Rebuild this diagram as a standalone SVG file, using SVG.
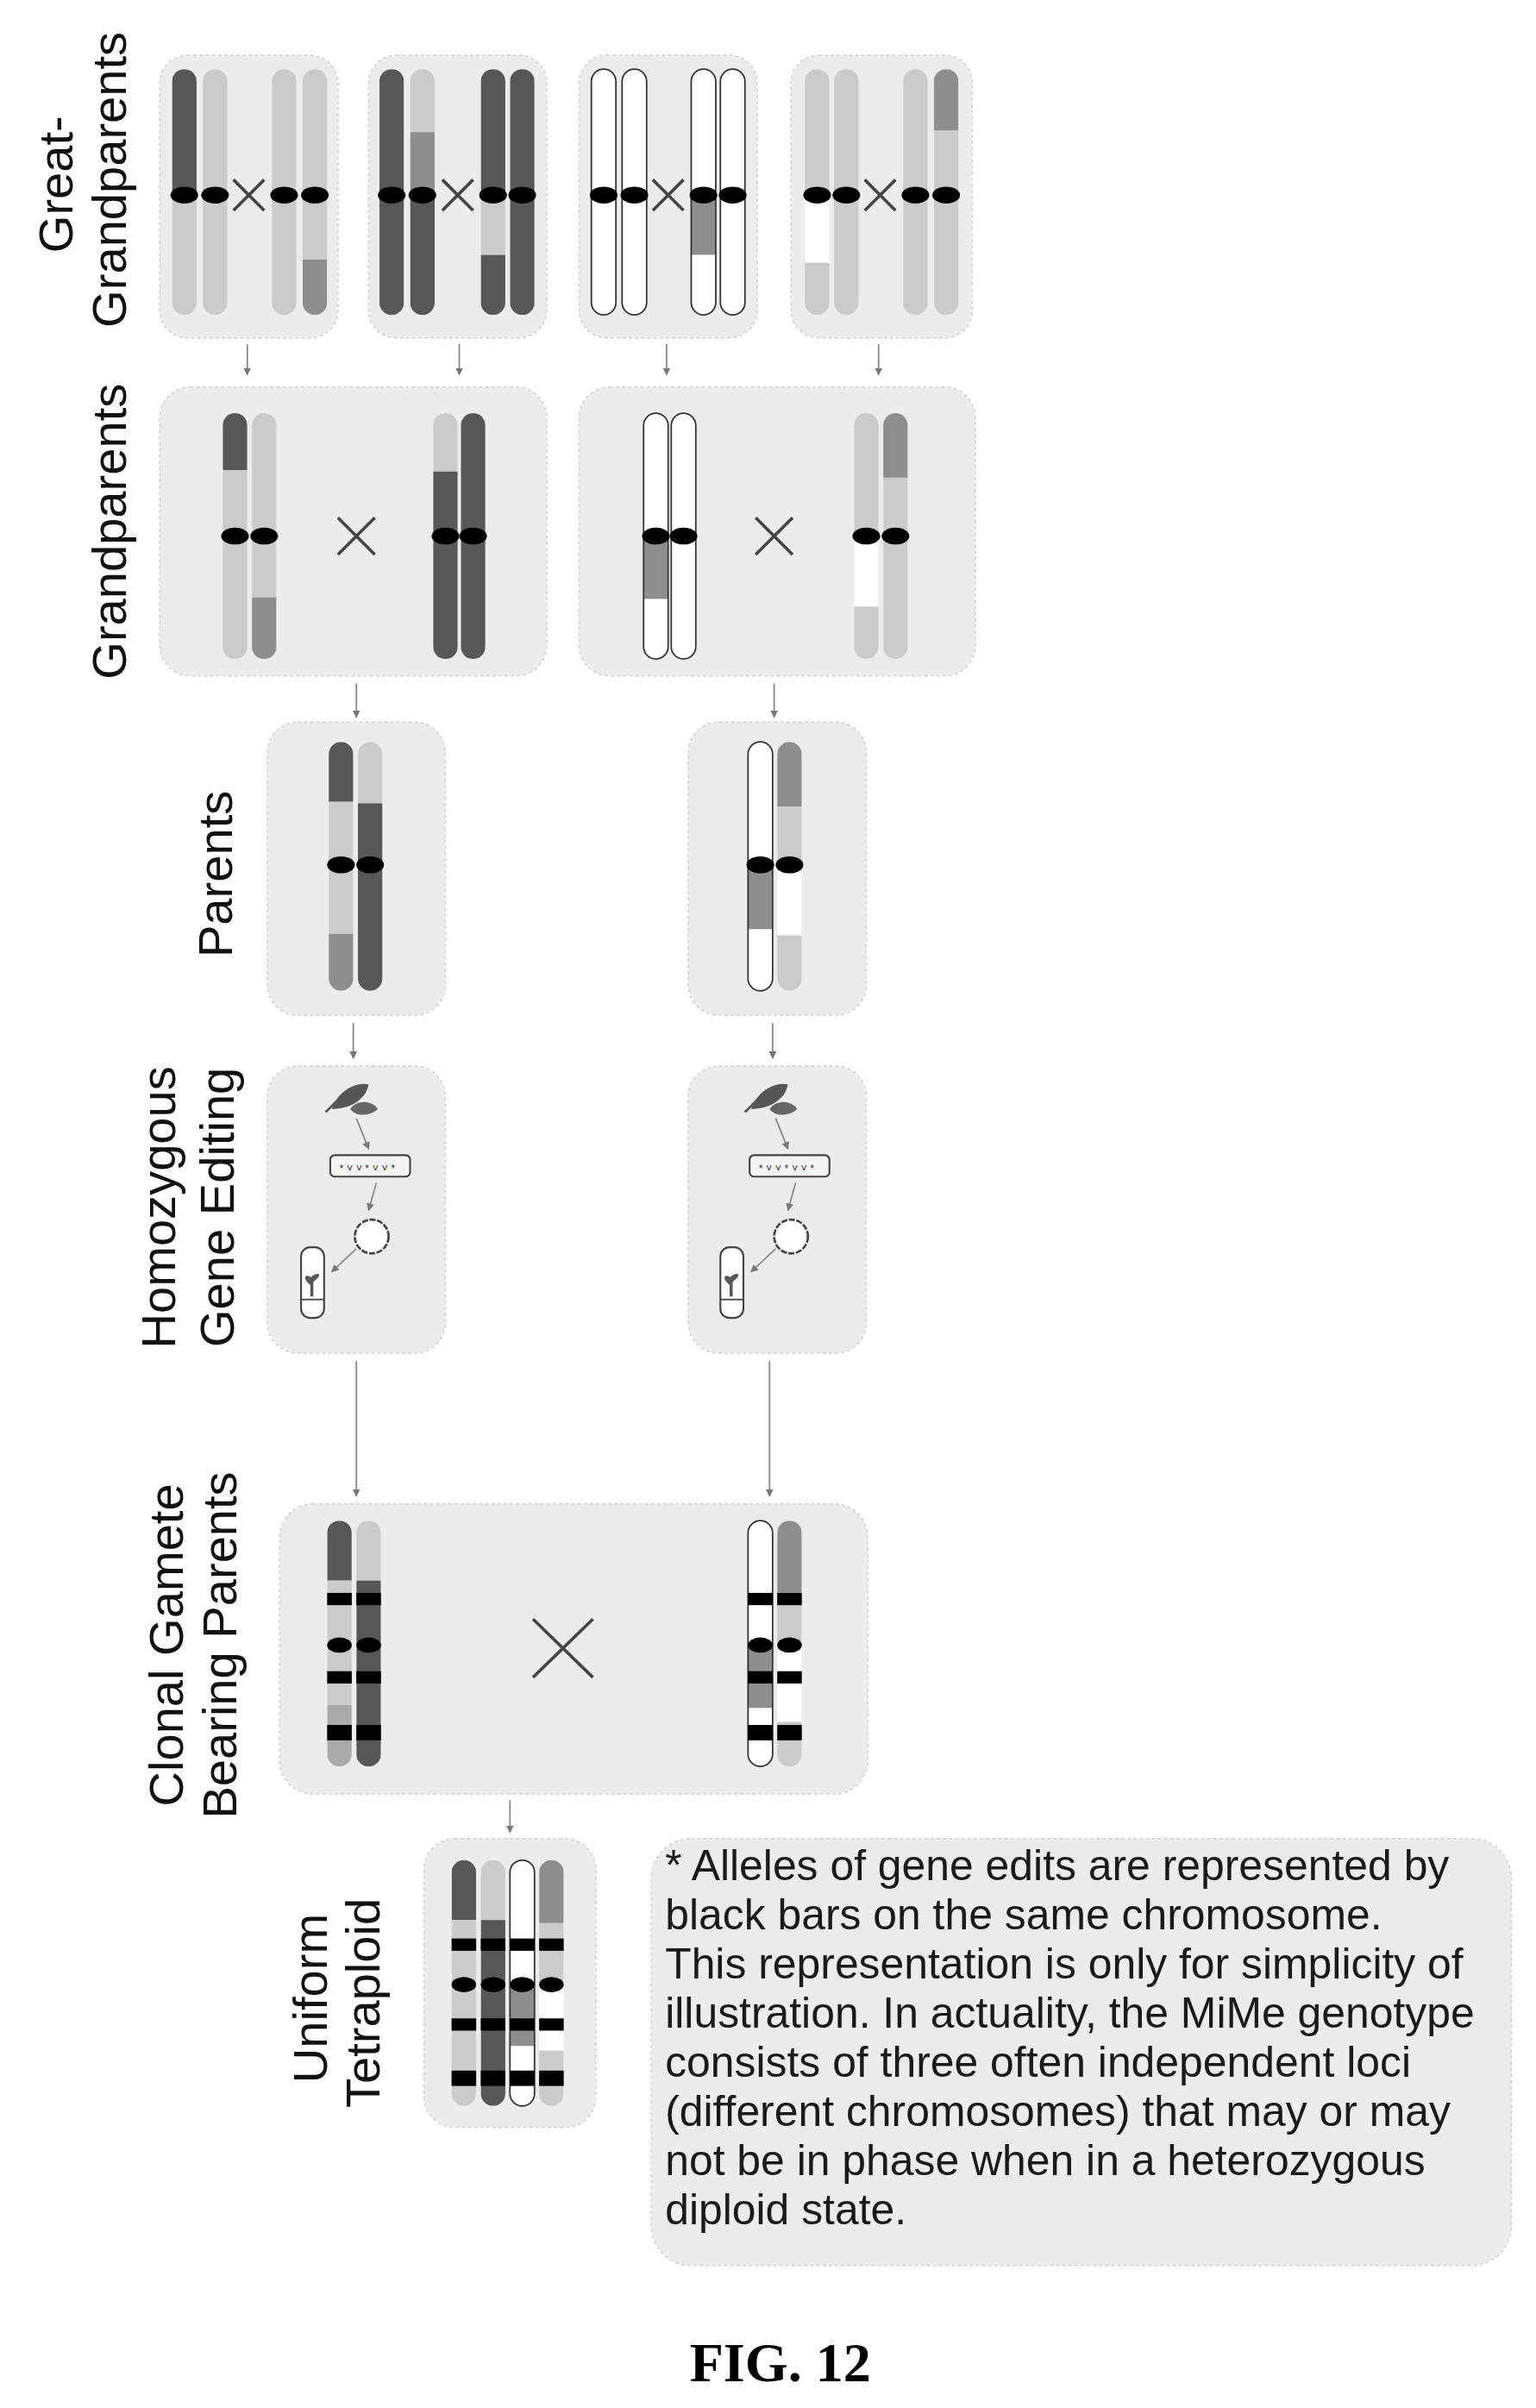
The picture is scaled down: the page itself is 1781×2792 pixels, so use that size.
<svg xmlns="http://www.w3.org/2000/svg" width="1781" height="2792" viewBox="0 0 1781 2792">
<style>
.bx{fill:#ececec;stroke:#d6d6d6;stroke-width:1;stroke-dasharray:2 2}
.D{fill:#575757}.M{fill:#8e8e8e}.L{fill:#cbcbcb}.W{fill:#fff}
.ol{fill:none;stroke:#333;stroke-width:1}
.cen{fill:#000}
.bar{fill:#000}
.x{stroke:#444;stroke-width:2;fill:none}
.lab{font-family:"Liberation Sans",Arial,sans-serif;font-size:31.5px;fill:#111;text-anchor:middle}
.note{font-family:"Liberation Sans",Arial,sans-serif;font-size:28px;fill:#1a1a1a}
.ar{stroke:#888;stroke-width:1;fill:none;marker-end:url(#ah)}
</style>
<defs>
<clipPath id="cc" clipPathUnits="objectBoundingBox"><rect x="0" y="0" width="1" height="1" rx="0.5" ry="0.05"/></clipPath>
<marker id="ah" viewBox="0 0 10 10" refX="9" refY="5" markerWidth="5" markerHeight="5" orient="auto"><path d="M0,0 L10,5 L0,10 z" fill="#777"/></marker>
</defs>
<rect width="1781" height="2792" fill="#fff"/>
<g transform="scale(1.781)">
<g id="labels">
<text class="lab" transform="translate(47,120) rotate(-90)">Great-</text>
<text class="lab" transform="translate(82,117) rotate(-90)">Grandparents</text>
<text class="lab" transform="translate(82,346) rotate(-90)">Grandparents</text>
<text class="lab" transform="translate(151,569) rotate(-90)">Parents</text>
<text class="lab" transform="translate(114,786) rotate(-90)">Homozygous</text>
<text class="lab" transform="translate(152,786) rotate(-90)">Gene Editing</text>
<text class="lab" transform="translate(119,1071) rotate(-90)">Clonal Gamete</text>
<text class="lab" transform="translate(154,1071) rotate(-90)">Bearing Parents</text>
<text class="lab" transform="translate(213,1301) rotate(-90)">Uniform</text>
<text class="lab" transform="translate(247,1304) rotate(-90)">Tetraploid</text>
</g>
<g id="connectors">
<line class="ar" x1="161" y1="224" x2="161" y2="244"/>
<line class="ar" x1="299" y1="224" x2="299" y2="244"/>
<line class="ar" x1="434" y1="224" x2="434" y2="244"/>
<line class="ar" x1="572" y1="224" x2="572" y2="244"/>
<line class="ar" x1="232" y1="445" x2="232" y2="467"/>
<line class="ar" x1="504" y1="445" x2="504" y2="467"/>
<line class="ar" x1="230" y1="666" x2="230" y2="689"/>
<line class="ar" x1="503" y1="666" x2="503" y2="689"/>
<line class="ar" x1="232" y1="886" x2="232" y2="974"/>
<line class="ar" x1="501" y1="886" x2="501" y2="974"/>
<line class="ar" x1="332" y1="1172" x2="332" y2="1193"/>
</g>
<g id="gg1">
<rect class="bx" x="104" y="36" width="116" height="184" rx="18"/>
<g clip-path="url(#cc)"><rect class="D" x="112" y="45" width="16" height="82"/><rect class="L" x="112" y="127" width="16" height="78"/></g>
<g clip-path="url(#cc)"><rect class="L" x="132" y="45" width="16" height="160"/></g>
<g clip-path="url(#cc)"><rect class="L" x="177" y="45" width="16" height="160"/></g>
<g clip-path="url(#cc)"><rect class="L" x="197" y="45" width="16" height="124"/><rect class="M" x="197" y="169" width="16" height="36"/></g>
<ellipse class="cen" cx="120" cy="127" rx="9" ry="5.5"/><ellipse class="cen" cx="140" cy="127" rx="9" ry="5.5"/><ellipse class="cen" cx="185" cy="127" rx="9" ry="5.5"/><ellipse class="cen" cx="205" cy="127" rx="9" ry="5.5"/>
<path class="x" d="M152,117 L172,137 M172,117 L152,137"/>
</g>
<g id="gg2">
<rect class="bx" x="240" y="36" width="116" height="184" rx="18"/>
<g clip-path="url(#cc)"><rect class="D" x="247" y="45" width="16" height="160"/></g>
<g clip-path="url(#cc)"><rect class="L" x="267" y="45" width="16" height="41"/><rect class="M" x="267" y="86" width="16" height="41"/><rect class="D" x="267" y="127" width="16" height="78"/></g>
<g clip-path="url(#cc)"><rect class="D" x="313" y="45" width="16" height="82"/><rect class="L" x="313" y="127" width="16" height="39"/><rect class="D" x="313" y="166" width="16" height="39"/></g>
<g clip-path="url(#cc)"><rect class="D" x="332" y="45" width="16" height="160"/></g>
<ellipse class="cen" cx="255" cy="127" rx="9" ry="5.5"/><ellipse class="cen" cx="275" cy="127" rx="9" ry="5.5"/><ellipse class="cen" cx="321" cy="127" rx="9" ry="5.5"/><ellipse class="cen" cx="340" cy="127" rx="9" ry="5.5"/>
<path class="x" d="M288,117 L308,137 M308,117 L288,137"/>
</g>
<g id="gg3">
<rect class="bx" x="377" y="36" width="116" height="184" rx="18"/>
<g clip-path="url(#cc)"><rect class="W" x="385" y="45" width="16" height="160"/></g>
<g clip-path="url(#cc)"><rect class="W" x="405" y="45" width="16" height="160"/></g>
<g clip-path="url(#cc)"><rect class="W" x="450" y="45" width="16" height="85"/><rect class="M" x="450" y="130" width="16" height="36"/><rect class="W" x="450" y="166" width="16" height="39"/></g>
<g clip-path="url(#cc)"><rect class="W" x="469" y="45" width="16" height="160"/></g>
<rect class="ol" x="385" y="45" width="16" height="160" rx="8"/><rect class="ol" x="405" y="45" width="16" height="160" rx="8"/><rect class="ol" x="450" y="45" width="16" height="160" rx="8"/><rect class="ol" x="469" y="45" width="16" height="160" rx="8"/>
<ellipse class="cen" cx="393" cy="127" rx="9" ry="5.5"/><ellipse class="cen" cx="413" cy="127" rx="9" ry="5.5"/><ellipse class="cen" cx="458" cy="127" rx="9" ry="5.5"/><ellipse class="cen" cx="477" cy="127" rx="9" ry="5.5"/>
<path class="x" d="M425,117 L445,137 M445,117 L425,137"/>
</g>
<g id="gg4">
<rect class="bx" x="515" y="36" width="118" height="184" rx="18"/>
<g clip-path="url(#cc)"><rect class="L" x="524" y="45" width="16" height="82"/><rect class="W" x="524" y="127" width="16" height="44"/><rect class="L" x="524" y="171" width="16" height="34"/></g>
<g clip-path="url(#cc)"><rect class="L" x="543" y="45" width="16" height="160"/></g>
<g clip-path="url(#cc)"><rect class="L" x="588" y="45" width="16" height="160"/></g>
<g clip-path="url(#cc)"><rect class="M" x="608" y="45" width="16" height="40"/><rect class="L" x="608" y="85" width="16" height="120"/></g>
<ellipse class="cen" cx="532" cy="127" rx="9" ry="5.5"/><ellipse class="cen" cx="551" cy="127" rx="9" ry="5.5"/><ellipse class="cen" cx="596" cy="127" rx="9" ry="5.5"/><ellipse class="cen" cx="616" cy="127" rx="9" ry="5.5"/>
<path class="x" d="M563,117 L583,137 M583,117 L563,137"/>
</g>
<g id="gp1">
<rect class="bx" x="104" y="252" width="252" height="188" rx="20"/>
<g clip-path="url(#cc)"><rect class="D" x="145" y="269" width="16" height="37"/><rect class="L" x="145" y="306" width="16" height="123"/></g>
<g clip-path="url(#cc)"><rect class="L" x="164" y="269" width="16" height="120"/><rect class="M" x="164" y="389" width="16" height="40"/></g>
<g clip-path="url(#cc)"><rect class="L" x="282" y="269" width="16" height="38"/><rect class="D" x="282" y="307" width="16" height="122"/></g>
<g clip-path="url(#cc)"><rect class="D" x="300" y="269" width="16" height="160"/></g>
<ellipse class="cen" cx="153" cy="349" rx="9" ry="5.5"/><ellipse class="cen" cx="172" cy="349" rx="9" ry="5.5"/><ellipse class="cen" cx="290" cy="349" rx="9" ry="5.5"/><ellipse class="cen" cx="308" cy="349" rx="9" ry="5.5"/>
<path class="x" d="M220,337 L244,361 M244,337 L220,361"/>
</g>
<g id="gp2">
<rect class="bx" x="377" y="252" width="258" height="188" rx="20"/>
<g clip-path="url(#cc)"><rect class="W" x="419" y="269" width="16" height="80"/><rect class="M" x="419" y="349" width="16" height="41"/><rect class="W" x="419" y="390" width="16" height="39"/></g>
<g clip-path="url(#cc)"><rect class="W" x="437" y="269" width="16" height="160"/></g>
<rect class="ol" x="419" y="269" width="16" height="160" rx="8"/><rect class="ol" x="437" y="269" width="16" height="160" rx="8"/>
<g clip-path="url(#cc)"><rect class="L" x="556" y="269" width="16" height="80"/><rect class="W" x="556" y="349" width="16" height="46"/><rect class="L" x="556" y="395" width="16" height="34"/></g>
<g clip-path="url(#cc)"><rect class="M" x="575" y="269" width="16" height="42"/><rect class="L" x="575" y="311" width="16" height="118"/></g>
<ellipse class="cen" cx="427" cy="349" rx="9" ry="5.5"/><ellipse class="cen" cx="445" cy="349" rx="9" ry="5.5"/><ellipse class="cen" cx="564" cy="349" rx="9" ry="5.5"/><ellipse class="cen" cx="583" cy="349" rx="9" ry="5.5"/>
<path class="x" d="M492,337 L516,361 M516,337 L492,361"/>
</g>
<g id="par1">
<rect class="bx" x="174" y="470" width="116" height="191" rx="20"/>
<g clip-path="url(#cc)"><rect class="D" x="214" y="483" width="16" height="39"/><rect class="L" x="214" y="522" width="16" height="86"/><rect class="M" x="214" y="608" width="16" height="37"/></g>
<g clip-path="url(#cc)"><rect class="L" x="233" y="483" width="16" height="40"/><rect class="D" x="233" y="523" width="16" height="122"/></g>
<ellipse class="cen" cx="222" cy="563" rx="9" ry="5.5"/><ellipse class="cen" cx="241" cy="563" rx="9" ry="5.5"/>
</g>
<g id="par2">
<rect class="bx" x="448" y="470" width="116" height="191" rx="20"/>
<g clip-path="url(#cc)"><rect class="W" x="487" y="483" width="16" height="80"/><rect class="M" x="487" y="563" width="16" height="42"/><rect class="W" x="487" y="605" width="16" height="40"/></g>
<g clip-path="url(#cc)"><rect class="M" x="506" y="483" width="16" height="42"/><rect class="L" x="506" y="525" width="16" height="38"/><rect class="W" x="506" y="563" width="16" height="46"/><rect class="L" x="506" y="609" width="16" height="36"/></g>
<rect class="ol" x="487" y="483" width="16" height="162" rx="8"/>
<ellipse class="cen" cx="495" cy="563" rx="9" ry="5.5"/><ellipse class="cen" cx="514" cy="563" rx="9" ry="5.5"/>
</g>
<g id="edit1">
<rect class="bx" x="174" y="694" width="116" height="187" rx="20"/>
<path d="M216,722 C220,710 232,704 240,706 C238,716 228,722 216,722 Z" fill="#555"/>
<path d="M228,722 C232,716 242,716 246,722 C240,727 232,727 228,722 Z" fill="#666"/>
<path d="M212,724 L224,712" stroke="#555" stroke-width="1.5"/>
<line class="ar" x1="232" y1="728" x2="240" y2="748"/>
<rect x="215" y="752" width="52" height="14" rx="3" fill="#f4f4f4" stroke="#444" stroke-width="1.2"/>
<text x="221" y="763" font-family="Liberation Sans,sans-serif" font-size="7" fill="#333">* ˅ ˅ * ˅ ˅ *</text>
<line class="ar" x1="245" y1="770" x2="240" y2="788"/>
<circle cx="242" cy="805" r="11" fill="#fff" stroke="#444" stroke-width="1.5" stroke-dasharray="4 1"/>
<line class="ar" x1="232" y1="813" x2="216" y2="828"/>
<rect x="196" y="812" width="15" height="46" rx="6" fill="#fff" stroke="#444" stroke-width="1.2"/>
<line x1="196" y1="846" x2="211" y2="846" stroke="#444"/>
<path d="M203,844 L203,832 M203,836 C198,832 199,830 203,833 M203,834 C208,830 208,829 203,832" stroke="#555" stroke-width="2" fill="none"/>
</g>
<g id="edit2">
<rect class="bx" x="448" y="694" width="116" height="187" rx="20"/>
<path d="M489,722 C493,710 505,704 513,706 C511,716 501,722 489,722 Z" fill="#555"/>
<path d="M501,722 C505,716 515,716 519,722 C513,727 505,727 501,722 Z" fill="#666"/>
<path d="M485,724 L497,712" stroke="#555" stroke-width="1.5"/>
<line class="ar" x1="505" y1="728" x2="513" y2="748"/>
<rect x="488" y="752" width="52" height="14" rx="3" fill="#f4f4f4" stroke="#444" stroke-width="1.2"/>
<text x="494" y="763" font-family="Liberation Sans,sans-serif" font-size="7" fill="#333">* ˅ ˅ * ˅ ˅ *</text>
<line class="ar" x1="518" y1="770" x2="513" y2="788"/>
<circle cx="515" cy="805" r="11" fill="#fff" stroke="#444" stroke-width="1.5" stroke-dasharray="4 1"/>
<line class="ar" x1="505" y1="813" x2="489" y2="828"/>
<rect x="469" y="812" width="15" height="46" rx="6" fill="#fff" stroke="#444" stroke-width="1.2"/>
<line x1="469" y1="846" x2="484" y2="846" stroke="#444"/>
<path d="M476,844 L476,832 M476,836 C471,832 472,830 476,833 M476,834 C481,830 481,829 476,832" stroke="#555" stroke-width="2" fill="none"/>
</g>
<g id="clonal">
<rect class="bx" x="182" y="979" width="383" height="189" rx="22"/>
<g clip-path="url(#cc)"><rect class="D" x="213" y="990" width="16" height="39"/><rect class="L" x="213" y="1029" width="16" height="81"/><rect class="M" x="213" y="1110" width="16" height="40" opacity="0.7"/></g>
<g clip-path="url(#cc)"><rect class="L" x="232" y="990" width="16" height="39"/><rect class="D" x="232" y="1029" width="16" height="121"/></g>
<g clip-path="url(#cc)"><rect class="W" x="487" y="990" width="16" height="81"/><rect class="M" x="487" y="1071" width="16" height="41"/><rect class="W" x="487" y="1112" width="16" height="38"/></g>
<g clip-path="url(#cc)"><rect class="M" x="506" y="990" width="16" height="47"/><rect class="L" x="506" y="1037" width="16" height="34"/><rect class="W" x="506" y="1071" width="16" height="50"/><rect class="L" x="506" y="1121" width="16" height="29"/></g>
<rect class="ol" x="487" y="990" width="16" height="160" rx="8"/>
<g class="bar">
<rect x="213" y="1037" width="16" height="8"/><rect x="232" y="1037" width="16" height="8"/><rect x="487" y="1037" width="16" height="8"/><rect x="506" y="1037" width="16" height="8"/>
<ellipse cx="221" cy="1071" rx="8" ry="5"/><ellipse cx="240" cy="1071" rx="8" ry="5"/><ellipse cx="495" cy="1071" rx="8" ry="5"/><ellipse cx="514" cy="1071" rx="8" ry="5"/>
<rect x="213" y="1088" width="16" height="8"/><rect x="232" y="1088" width="16" height="8"/><rect x="487" y="1088" width="16" height="8"/><rect x="506" y="1088" width="16" height="8"/>
<rect x="213" y="1123" width="16" height="10"/><rect x="232" y="1123" width="16" height="10"/><rect x="487" y="1123" width="16" height="10"/><rect x="506" y="1123" width="16" height="10"/>
</g>
<path class="x" d="M347,1054 L386,1092 M386,1054 L347,1092" stroke-width="3"/>
</g>
<g id="tetra">
<rect class="bx" x="276" y="1197" width="112" height="188" rx="20"/>
<g clip-path="url(#cc)"><rect class="D" x="294" y="1211" width="16" height="39"/><rect class="L" x="294" y="1250" width="16" height="121"/></g>
<g clip-path="url(#cc)"><rect class="L" x="313" y="1211" width="16" height="39"/><rect class="D" x="313" y="1250" width="16" height="121"/></g>
<g clip-path="url(#cc)"><rect class="W" x="332" y="1211" width="16" height="81"/><rect class="M" x="332" y="1292" width="16" height="40"/><rect class="W" x="332" y="1332" width="16" height="39"/></g>
<g clip-path="url(#cc)"><rect class="M" x="351" y="1211" width="16" height="41"/><rect class="L" x="351" y="1252" width="16" height="40"/><rect class="W" x="351" y="1292" width="16" height="43"/><rect class="L" x="351" y="1335" width="16" height="36"/></g>
<rect class="ol" x="332" y="1211" width="16" height="160" rx="8"/>
<g class="bar">
<rect x="294" y="1262" width="16" height="8"/><rect x="313" y="1262" width="16" height="8"/><rect x="332" y="1262" width="16" height="8"/><rect x="351" y="1262" width="16" height="8"/>
<ellipse cx="302" cy="1292" rx="8" ry="5"/><ellipse cx="321" cy="1292" rx="8" ry="5"/><ellipse cx="340" cy="1292" rx="8" ry="5"/><ellipse cx="359" cy="1292" rx="8" ry="5"/>
<rect x="294" y="1314" width="16" height="8"/><rect x="313" y="1314" width="16" height="8"/><rect x="332" y="1314" width="16" height="8"/><rect x="351" y="1314" width="16" height="8"/>
<rect x="294" y="1348" width="16" height="10"/><rect x="313" y="1348" width="16" height="10"/><rect x="332" y="1348" width="16" height="10"/><rect x="351" y="1348" width="16" height="10"/>
</g>
</g>
<g id="note">
<rect class="bx" x="424" y="1197" width="560" height="278" rx="26"/>
<text class="note" x="433" y="1224">* Alleles of gene edits are represented by</text>
<text class="note" x="433" y="1256">black bars on the same chromosome.</text>
<text class="note" x="433" y="1288">This representation is only for simplicity of</text>
<text class="note" x="433" y="1320">illustration. In actuality, the MiMe genotype</text>
<text class="note" x="433" y="1352">consists of three often independent loci</text>
<text class="note" x="433" y="1384">(different chromosomes) that may or may</text>
<text class="note" x="433" y="1416">not be in phase when in a heterozygous</text>
<text class="note" x="433" y="1448">diploid state.</text>
</g>
<text x="508" y="1550" text-anchor="middle" font-family="Liberation Serif,serif" font-weight="bold" font-size="36" fill="#000">FIG. 12</text>
</g>
</svg>
